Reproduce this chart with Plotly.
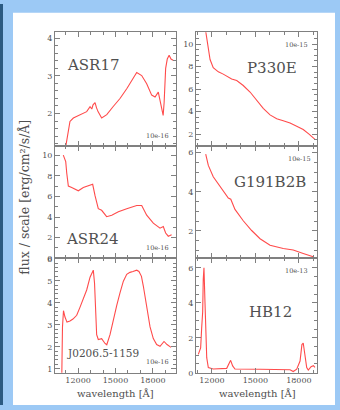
import plotly.graph_objects as go

W, H = 340, 410

# ---------------- data ----------------
asr17_wl = [10950, 11090, 11350, 11620, 11900, 12150, 12450, 12690, 12960, 13100, 13200, 13360, 13480, 13600,
            13890, 14300, 14800, 15360, 15900, 16300, 16700, 17100, 17500, 17900, 18170, 18430, 18620,
            18720, 18820, 18900, 19020, 19150, 19300, 19450, 19620]
asr17_flux = [1.0, 1.27, 1.79, 1.88, 1.93, 1.97, 2.02, 2.05, 2.18, 2.12, 2.23, 2.29, 2.15, 2.05,
              1.88, 1.97, 2.18, 2.40, 2.66, 2.88, 3.09, 3.01, 2.79, 2.49, 2.44, 2.57, 2.28,
              2.05, 1.95, 2.3, 3.2, 3.45, 3.55, 3.45, 3.42]

asr24_wl = [10815, 11010, 11090, 11220, 11490, 11750, 12020, 12420, 12820, 13170, 13360, 13620, 13890,
            14290, 14700, 15230, 15900, 16700, 17100, 17500, 18030, 18570, 18830, 19020, 19230, 19500]
asr24_flux = [10.0, 9.37, 8.27, 7.0, 6.86, 6.7, 6.54, 6.86, 7.0, 7.17, 6.07, 4.81, 4.65,
              4.03, 4.18, 4.5, 4.81, 5.12, 5.12, 4.18, 3.40, 2.92, 3.08, 2.45, 2.14, 2.29]

j0206_wl = [10690, 10750, 10830, 10950, 11110, 11350, 11590, 11890, 12150, 12420, 12690, 12960, 13120,
            13220, 13320, 13400, 13490, 13620, 13890, 14160, 14300, 14560, 14820, 15100, 15360, 15630,
            15900, 16160, 16400, 16700, 16880, 17080, 17230, 17500, 17770, 18030, 18300, 18570, 18730,
            18890, 19130, 19450]
j0206_flux = [0.5, 2.9, 3.64, 3.35, 3.12, 3.17, 3.26, 3.43, 3.79, 4.23, 4.58, 5.16, 5.42,
              5.48, 4.89, 3.79, 2.55, 2.33, 2.37, 2.15, 2.09, 2.55, 3.26, 3.88, 4.45, 4.98,
              5.29, 5.38, 5.42, 5.48, 5.42, 5.2, 4.76, 3.79, 2.9, 2.37, 2.1, 2.02, 2.15,
              2.24, 2.1, 1.97]

p330e_wl = [11550, 11750, 11870, 12090, 12440, 12780, 13130, 13360, 13710, 14160, 14630, 15090, 15540,
            16010, 16470, 16920, 17390, 17850, 18300, 18700, 19110]
p330e_flux = [11.3, 9.50, 8.63, 7.91, 7.53, 7.33, 7.04, 6.90, 6.76, 6.32, 5.74, 5.02, 4.29,
              3.71, 3.37, 3.19, 2.98, 2.70, 2.41, 2.0, 1.54]

g191_wl = [11570, 11750, 12090, 12560, 13130, 13300, 13590, 14160, 14740, 15320, 16010, 16920, 17610,
           18300, 18990]
g191_flux = [5.93, 5.35, 4.77, 4.27, 3.68, 3.62, 3.1, 2.52, 2.02, 1.6, 1.27, 1.1, 1.02, 0.85, 0.68]

hb12_wl = [11060, 11220, 11290, 11360, 11400, 11450, 11520, 11590, 11640, 11750, 12090, 13020, 13200,
           13290, 13430, 13590, 15320, 17390, 17610, 17850, 18080, 18210, 18300, 18420, 18540, 18650,
           18840, 19000, 19110]
hb12_flux = [1.05, 1.42, 2.54, 3.48, 5.35, 6.01, 4.04, 2.17, 0.86, 0.3, 0.21, 0.25, 0.58,
             0.71, 0.39, 0.21, 0.2, 0.17, 0.07, 0.2, 0.67, 1.61, 1.7, 0.86, 0.3, 0.15,
             0.35, 0.4, 0.3]

names = ["ASR17", "P330E", "ASR24", "G191B2B", "J0206.5-1159", "HB12"]
scales = ["10e-16", "10e-15", "10e-16", "10e-15", "10e-16", "10e-13"]
x_tick_vals = [12000, 15000, 18000]
x_tick_text = ["12000", "15000", "18000"]
x_title = "wavelength [Å]"
y_title = "flux / scale [erg/cm²/s/Å]"

series = [(asr17_wl, asr17_flux), (p330e_wl, p330e_flux), (asr24_wl, asr24_flux),
          (g191_wl, g191_flux), (j0206_wl, j0206_flux), (hb12_wl, hb12_flux)]

# ---------------- layout helpers ----------------
def px(x):
    return x / W

def py(y):
    return 1 - y / H

col_dom = [[px(55), px(176)], [px(196), px(317)]]
row_dom = [[py(145), py(29)], [py(260), py(145)], [py(377), py(260)]]
x_ranges = [[10150, 19850], [10900, 19250]]
y_ranges = [[1.14, 4.16], [0.96, 11.04], [0.0, 10.9], [0.6, 6.35], [0.82, 6.02], [0.0, 6.55]]
y_dticks = [1, 2, 2, 2, 1, 2]
y_minor = [0.2, 0.5, 1, 0.5, 0.2, 0.5]

# label positions (px)
name_pos = [(93, 62, 15), (272, 65, 15), (92, 240, 15), (270, 182, 15), (103, 357, 10.5), (270, 315, 15)]
scale_pos = [(157, 135), (296, 42), (157, 249), (299, 158), (157, 366), (296, 273)]

axcol = "#808080"
txtcol = "#505050"
font = "DejaVu Serif"
red = "rgb(255,75,75)"

fig = go.Figure()
layout = dict(
    width=W, height=H, margin=dict(l=0, r=0, t=0, b=0),
    paper_bgcolor="#9cc9f5", plot_bgcolor="rgba(0,0,0,0)", showlegend=False,
    font=dict(family=font, color=txtcol, size=8),
)

annotations = []
for i, (wl, fl) in enumerate(series):
    r, c = divmod(i, 2)
    n = i + 1
    xa = "x" if n == 1 else f"x{n}"
    ya = "y" if n == 1 else f"y{n}"
    fig.add_trace(go.Scatter(x=wl, y=fl, mode="lines", line=dict(color=red, width=1.1),
                             xaxis=xa, yaxis=ya, hoverinfo="skip"))
    xkey = "xaxis" if n == 1 else f"xaxis{n}"
    ykey = "yaxis" if n == 1 else f"yaxis{n}"
    layout[xkey] = dict(
        domain=col_dom[c], range=x_ranges[c], anchor=ya,
        showline=True, linecolor=axcol, linewidth=1, mirror="ticks",
        ticks="inside", ticklen=5, tickcolor=axcol, tickwidth=1,
        tickvals=x_tick_vals, ticktext=x_tick_text,
        showticklabels=(r == 2), showgrid=False, zeroline=False,
        tickfont=dict(family=font, size=8, color=txtcol),
        minor=dict(ticks="inside", ticklen=3, dtick=1000, tick0=10000, tickcolor=axcol, showgrid=False),
    )
    layout[ykey] = dict(
        domain=row_dom[r], range=y_ranges[i], anchor=xa,
        showline=True, linecolor=axcol, linewidth=1, mirror="ticks",
        ticks="inside", ticklen=5, tickcolor=axcol, tickwidth=1,
        dtick=y_dticks[i], tick0=0, showgrid=False, zeroline=False,
        tickfont=dict(family=font, size=8, color=txtcol),
        minor=dict(ticks="inside", ticklen=3, dtick=y_minor[i], tick0=0, tickcolor=axcol, showgrid=False),
    )
    nx, ny, ns = name_pos[i]
    annotations.append(dict(x=px(nx), y=py(ny), xref="paper", yref="paper", text=names[i],
                            showarrow=False, xanchor="center", yanchor="middle",
                            font=dict(family=font, size=ns, color=txtcol)))
    sx, sy = scale_pos[i]
    annotations.append(dict(x=px(sx), y=py(sy), xref="paper", yref="paper", text=scales[i],
                            showarrow=False, xanchor="center", yanchor="middle",
                            font=dict(family=font, size=6.5, color=txtcol)))

for cx in (115, 257):
    annotations.append(dict(x=px(cx), y=py(398), xref="paper", yref="paper", text=x_title,
                            showarrow=False, xanchor="center", yanchor="middle",
                            font=dict(family=font, size=10, color=txtcol)))
annotations.append(dict(x=px(25), y=py(198), xref="paper", yref="paper", text=y_title,
                        showarrow=False, xanchor="center", yanchor="middle", textangle=-90,
                        font=dict(family=font, size=12.5, color=txtcol)))
layout["annotations"] = annotations

layout["shapes"] = [
    dict(type="rect", xref="paper", yref="paper", x0=px(13), x1=px(335), y0=0, y1=py(9),
         fillcolor="white", line=dict(width=0), layer="below"),
    dict(type="rect", xref="paper", yref="paper", x0=0, x1=px(3), y0=0, y1=1,
         fillcolor="#2b5a82", line=dict(width=0), layer="below"),
]

fig.update_layout(**layout)
fig.write_html("out.html", config={"displayModeBar": False},
               post_script="document.body.style.margin='0px';document.body.style.overflow='hidden';")
